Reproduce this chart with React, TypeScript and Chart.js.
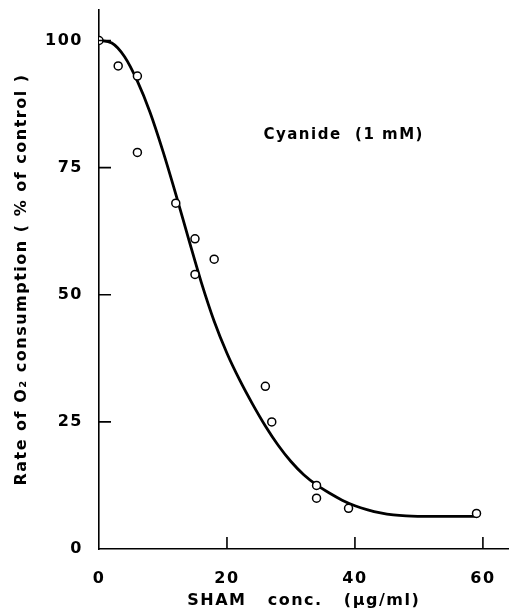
import React, { useEffect, useRef } from "react";
import { Chart, registerables } from "chart.js";

Chart.register(...registerables);

const shamConc = [0, 3, 6, 6, 12, 15, 15, 18, 26, 27, 34, 34, 39, 59];
const rateO2 = [100, 95, 93, 78, 68, 61, 54, 57, 32, 25, 12.5, 10, 8, 7];

const fitConc = [0, 2, 4, 6, 8, 10, 12, 14, 16, 18, 20, 22, 24, 26, 28, 30, 32, 34, 36, 38, 40, 42, 44, 46, 48, 52, 59];
const fitRate = [100, 99.5, 96.8, 92, 85.8, 78.2, 69.8, 61, 52.4, 44.8, 38.5, 33.2, 28.5, 24.2, 20.4, 17.2, 14.6, 12.6, 11.0, 9.6, 8.5, 7.7, 7.1, 6.7, 6.5, 6.4, 6.4];

const xTicks = [0, 20, 40, 60];
const yTicks = [0, 25, 50, 75, 100];

const xTitle = "SHAM   conc.   (µg/ml)";
const yTitle = "Rate of O₂ consumption ( % of control )";
const noteText = "Cyanide  (1 mM)";
const notePos = { x: 25.7, y: 81.3 };

const FONT = "'DejaVu Sans', sans-serif";

export default function App() {
  const ref = useRef<HTMLCanvasElement | null>(null);
  useEffect(() => {
    document.body.style.margin = "0";
    const canvas = ref.current;
    if (!canvas) return;

    const spacingPlugin = {
      id: "spacing",
      beforeDraw(chart: any) {
        (chart.ctx as any).letterSpacing = "1.5px";
      },
    };

    const inwardTicks = {
      id: "inwardTicks",
      afterDatasetsDraw(chart: any) {
        const { ctx, scales, chartArea } = chart;
        ctx.save();
        ctx.strokeStyle = "#000";
        ctx.lineWidth = 1.6;
        ctx.beginPath();
        xTicks.forEach((v) => {
          if (v === 0) return;
          const px = scales.x.getPixelForValue(v);
          ctx.moveTo(px, chartArea.bottom);
          ctx.lineTo(px, chartArea.bottom - 12);
        });
        yTicks.forEach((v) => {
          if (v === 0) return;
          const py = scales.y.getPixelForValue(v);
          ctx.moveTo(chartArea.left, py);
          ctx.lineTo(chartArea.left + 12, py);
        });
        ctx.stroke();
        ctx.restore();
      },
    };

    const notePlugin = {
      id: "note",
      afterDatasetsDraw(chart: any) {
        const { ctx, scales } = chart;
        ctx.save();
        (ctx as any).letterSpacing = "1.5px";
        ctx.fillStyle = "#000";
        ctx.font = `bold 15px ${FONT}`;
        ctx.textAlign = "left";
        ctx.textBaseline = "middle";
        ctx.fillText(noteText, scales.x.getPixelForValue(notePos.x), scales.y.getPixelForValue(notePos.y));
        ctx.restore();
      },
    };

    const chart = new Chart(canvas, {
      type: "scatter",
      data: {
        datasets: [
          {
            label: "Measured",
            data: shamConc.map((x, i) => ({ x, y: rateO2[i] })),
            pointRadius: 4,
            pointBorderWidth: 1.5,
            pointBorderColor: "#000",
            pointBackgroundColor: "#fff",
            showLine: false,
            order: 0,
          },
          {
            label: "Fit",
            data: fitConc.map((x, i) => ({ x, y: fitRate[i] })),
            showLine: true,
            borderColor: "#000",
            borderWidth: 2.8,
            pointRadius: 0,
            cubicInterpolationMode: "monotone",
            fill: false,
            order: 1,
          } as any,
        ],
      },
      options: {
        responsive: false,
        animation: false,
        layout: { padding: { top: 10, right: 1, left: 0, bottom: 0 } },
        plugins: { legend: { display: false }, tooltip: { enabled: false } },
        scales: {
          x: {
            type: "linear",
            min: 0,
            max: 64,
            afterBuildTicks: (s: any) => {
              s.ticks = xTicks.map((v) => ({ value: v }));
            },
            afterFit: (s: any) => {
              s.height = 62;
              s.paddingLeft = 0;
              s.paddingRight = 0;
            },
            grid: { display: true, drawOnChartArea: false, drawTicks: false },
            border: { display: true, color: "#000", width: 1.6 },
            ticks: {
              color: "#000",
              padding: 20,
              maxRotation: 0,
              font: { family: FONT, size: 16, weight: "bold" },
            },
            title: {
              display: true,
              text: xTitle,
              color: "#000",
              padding: { top: 0, bottom: 1 },
              font: { family: FONT, size: 16, weight: "bold" },
            },
          },
          y: {
            type: "linear",
            min: 0,
            max: 106,
            afterBuildTicks: (s: any) => {
              s.ticks = yTicks.map((v) => ({ value: v }));
            },
            afterFit: (s: any) => {
              s.width = 99;
              s.paddingTop = 0;
              s.paddingBottom = 0;
            },
            grid: { display: true, drawOnChartArea: false, drawTicks: false },
            border: { display: true, color: "#000", width: 1.6 },
            ticks: {
              color: "#000",
              padding: 16,
              font: { family: FONT, size: 16, weight: "bold" },
            },
            title: {
              display: true,
              text: yTitle,
              color: "#000",
              padding: { top: 12, bottom: 0 },
              font: { family: FONT, size: 16, weight: "bold" },
            },
          },
        },
      },
      plugins: [spacingPlugin, inwardTicks, notePlugin],
    });
    return () => chart.destroy();
  }, []);

  return (
    <div style={{ width: 514, height: 611 }}>
      <canvas ref={ref} width={514} height={611} style={{ display: "block" }} />
    </div>
  );
}
